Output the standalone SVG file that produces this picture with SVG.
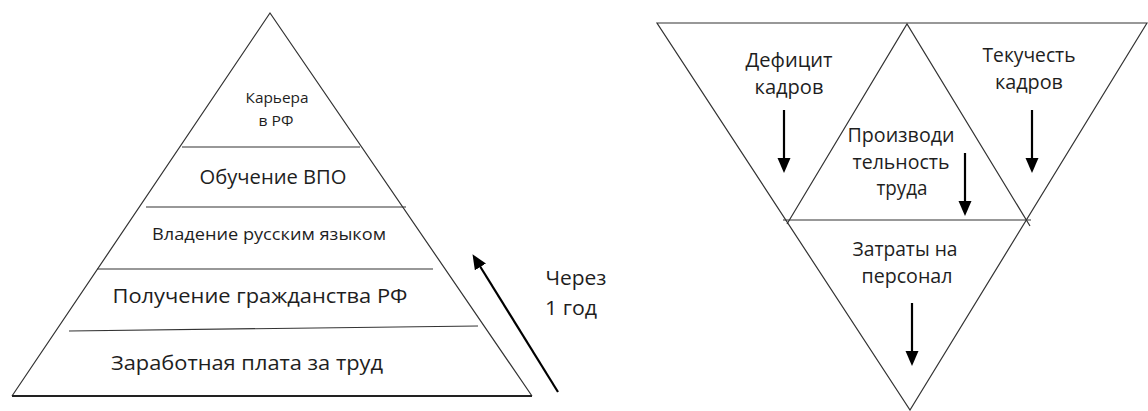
<svg xmlns="http://www.w3.org/2000/svg" width="1148" height="411" viewBox="0 0 1148 411">
<style>
.ln{stroke:#333;stroke-width:1.2;fill:none}
.base{stroke:#222;stroke-width:2;fill:none}
.ar{stroke:#000;stroke-width:2.2;fill:none;marker-end:url(#ah)}
text{font-family:"Open Sans","Noto Sans","Liberation Sans",sans-serif;fill:#1e1e1e;text-anchor:middle}
.t20{font-size:20.5px}
.t19{font-size:19.5px}
.t16{font-size:16px}
.t14{font-size:14.5px}
</style>
<defs>
<marker id="ah" markerUnits="userSpaceOnUse" markerWidth="16" markerHeight="14" viewBox="0 0 16 14" refX="4" refY="6.5" orient="auto">
<path d="M0,0 L15,6.5 L0,13 z" fill="#000"/>
</marker>
</defs>
<rect width="1148" height="411" fill="#fff"/>
<g id="pyramid">
<path class="ln" d="M12,396 L270,13 L532,396"/>
<line class="base" x1="12" y1="396" x2="532" y2="396"/>
<line class="ln" x1="182" y1="147" x2="360" y2="147"/>
<line class="ln" x1="146" y1="207" x2="406" y2="207"/>
<line class="ln" x1="97" y1="269" x2="433" y2="269"/>
<line class="ln" x1="69" y1="331" x2="478" y2="326"/>
</g>
<g id="level-career"><text class="t14" x="277" y="103" textLength="63" lengthAdjust="spacingAndGlyphs">Карьера</text><text class="t14" x="276" y="126" textLength="35" lengthAdjust="spacingAndGlyphs">в РФ</text></g>
<g id="level-education"><text class="t20" x="273" y="184" textLength="147" lengthAdjust="spacingAndGlyphs">Обучение ВПО</text></g>
<g id="level-language"><text class="t16" x="269" y="240" textLength="234" lengthAdjust="spacingAndGlyphs">Владение русским языком</text></g>
<g id="level-citizenship"><text class="t20" x="260" y="303" textLength="295" lengthAdjust="spacingAndGlyphs">Получение гражданства РФ</text></g>
<g id="level-salary"><text class="t20" x="247" y="370" textLength="272" lengthAdjust="spacingAndGlyphs">Заработная плата за труд</text></g>
<g id="label-year"><text class="t20" x="576" y="285" textLength="61" lengthAdjust="spacingAndGlyphs">Через</text><text class="t20" x="571" y="315" textLength="52" lengthAdjust="spacingAndGlyphs">1 год</text></g>
<g id="funnel">
<path class="ln" d="M657,23 L1147,23 L910,410 Z"/>
<path class="ln" d="M787,224 L907,24 L1030,226"/>
<line class="ln" x1="783" y1="220" x2="1031" y2="220"/>
</g>
<g id="node-deficit"><text class="t19" x="789" y="67" textLength="87" lengthAdjust="spacingAndGlyphs">Дефицит</text><text class="t19" x="789" y="94" textLength="69" lengthAdjust="spacingAndGlyphs">кадров</text></g>
<g id="node-turnover"><text class="t19" x="1029" y="62" textLength="93" lengthAdjust="spacingAndGlyphs">Текучесть</text><text class="t19" x="1029" y="89" textLength="68" lengthAdjust="spacingAndGlyphs">кадров</text></g>
<g id="node-productivity"><text class="t19" x="901" y="142" textLength="107" lengthAdjust="spacingAndGlyphs">Производи</text><text class="t19" x="901" y="169" textLength="97" lengthAdjust="spacingAndGlyphs">тельность</text><text class="t19" x="902" y="195" textLength="51" lengthAdjust="spacingAndGlyphs">труда</text></g>
<g id="node-costs"><text class="t19" x="905" y="256" textLength="105" lengthAdjust="spacingAndGlyphs">Затраты на</text><text class="t19" x="907" y="283" textLength="91" lengthAdjust="spacingAndGlyphs">персонал</text></g>
<g id="connectors">
<line class="ar" x1="558" y1="392" x2="478.3" y2="263.5"/>
<line class="ar" x1="784" y1="110" x2="784" y2="162"/>
<line class="ar" x1="1032" y1="110" x2="1032" y2="162"/>
<line class="ar" x1="965" y1="153" x2="965" y2="205"/>
<line class="ar" x1="912" y1="303" x2="912" y2="355"/>
</g>
</svg>
